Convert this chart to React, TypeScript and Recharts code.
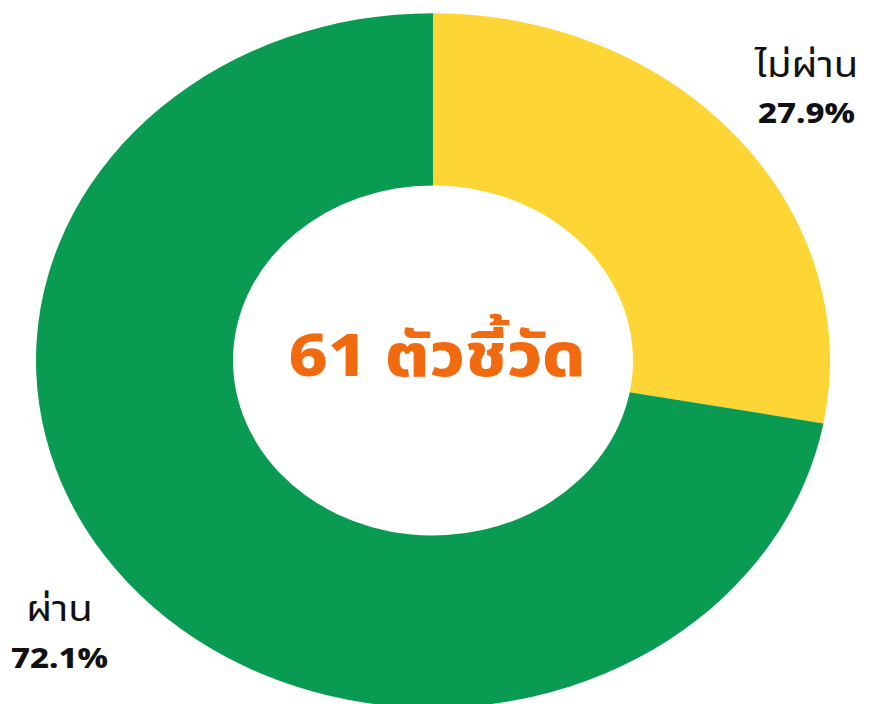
import { PieChart, Pie, Cell } from "recharts";

const labels = ["ไม่ผ่าน", "ผ่าน"];
const values = [27.9, 72.1];
const colors = ["#FDD535", "#089B51"];
const centerTitle = "61 ตัวชี้วัด";

const data = labels.map((name, i) => ({ name, value: values[i] }));

const RAD = Math.PI / 180;
const SQUASH = 0.875;

function renderLabel(props: any) {
  const { cx, cy, midAngle, outerRadius, index } = props;
  const r = outerRadius + 89;
  const x = cx + r * Math.cos(-midAngle * RAD);
  const y = cy + r * Math.sin(-midAngle * RAD);
  return (
    <text x={x} y={y} textAnchor="middle" fill="#111" fontFamily="'Noto Sans Thai', 'Noto Sans', sans-serif">
      <tspan x={x} dy={-13} fontSize={40}>
        {data[index].name}
      </tspan>
      <tspan x={x} dy={53} fontSize={33} fontWeight={800}>
        {data[index].value}%
      </tspan>
    </text>
  );
}

export default function App() {
  const w = 877;
  const h = Math.round(704 / SQUASH);
  return (
    <div style={{ position: "absolute", left: 0, top: 0, width: 877, height: 704, overflow: "hidden", background: "#fff" }}>
      <div style={{ transform: `scaleY(${SQUASH})`, transformOrigin: "0 0", width: w, height: h }}>
        <PieChart width={w} height={h}>
          <Pie
            data={data}
            dataKey="value"
            cx={428}
            cy={407}
            innerRadius={200}
            outerRadius={397}
            startAngle={90}
            endAngle={-270}
            stroke="none"
            label={renderLabel}
            labelLine={false}
            isAnimationActive={false}
          >
            {data.map((d, i) => (
              <Cell key={d.name} fill={colors[i]} />
            ))}
          </Pie>
          <text
            x={437}
            y={409}
            textAnchor="middle"
            dominantBaseline="central"
            fill="#F26A10"
            fontSize={68}
            fontWeight={800}
            fontFamily="'Noto Sans Thai', 'Noto Sans', sans-serif"
          >
            {centerTitle}
          </text>
        </PieChart>
      </div>
    </div>
  );
}
